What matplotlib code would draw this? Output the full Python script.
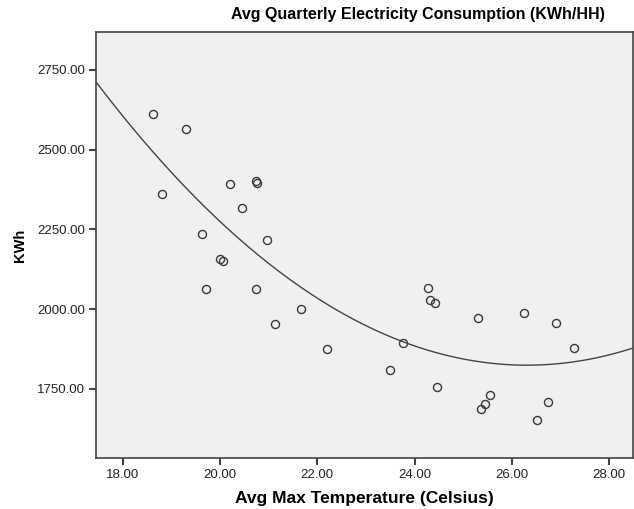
import numpy as np
import matplotlib.pyplot as plt

plt.rcParams['font.family'] = ['Liberation Sans', 'DejaVu Sans']

temp = np.array([18.63, 19.30, 18.80, 20.20, 20.74, 20.77, 20.46, 19.63, 20.97,
                 20.00, 20.07, 19.72, 20.74, 21.67, 21.13, 22.20, 23.50, 23.77,
                 24.27, 24.31, 24.41, 25.31, 26.24, 26.91, 27.28, 24.47, 25.54,
                 25.45, 25.37, 26.75, 26.51])
kwh = np.array([2612, 2565, 2360, 2391, 2402, 2396, 2317, 2237, 2217,
                2156, 2152, 2064, 2064, 2001, 1954, 1874, 1809, 1893,
                2066, 2027, 2018, 1971, 1987, 1957, 1877, 1756, 1731,
                1703, 1687, 1708, 1651])

xticks = [18, 20, 22, 24, 26, 28]
yticks = [1750, 2000, 2250, 2500, 2750]

# quadratic fit line
coef = np.polyfit(temp, kwh, 2)
xs = np.linspace(17.45, 28.5, 200)
ys = np.polyval(coef, xs)

fig = plt.figure(figsize=(6.34, 5.09), dpi=100)
ax = fig.add_axes([96/634, 1-458/509, 1-96/634-1/634, (458-32)/509])
ax.set_facecolor('#f0f0f0')

ax.plot(xs, ys, '-', color='#444444', lw=1.0)
ax.plot(temp, kwh, 'o', mfc='none', mec='#3a3a3a', mew=1.0, ms=5.8)

ax.set_xlim(17.45, 28.49)
ax.set_ylim(1533, 2869)
ax.set_xticks(xticks)
ax.set_yticks(yticks)
ax.set_xticklabels(['%.2f' % v for v in xticks])
ax.set_yticklabels(['%.2f' % v for v in yticks])
ax.tick_params(direction='out', length=5, width=1.5, color='#444444',
               labelsize=9.5, labelcolor='#222222', pad=3)
for s in ax.spines.values():
    s.set_color('#444444')
    s.set_linewidth(1.2)

ax.set_xlabel('Avg Max Temperature (Celsius)', fontsize=12.5, fontweight='bold', labelpad=7)
ax.set_ylabel('KWh', fontsize=10.5, fontweight='bold', labelpad=7)
fig.text(418/634, 1-15/509, 'Avg Quarterly Electricity Consumption (KWh/HH)',
         ha='center', va='center', fontsize=11.5, fontweight='bold')

fig.savefig('out.png', dpi=100)
